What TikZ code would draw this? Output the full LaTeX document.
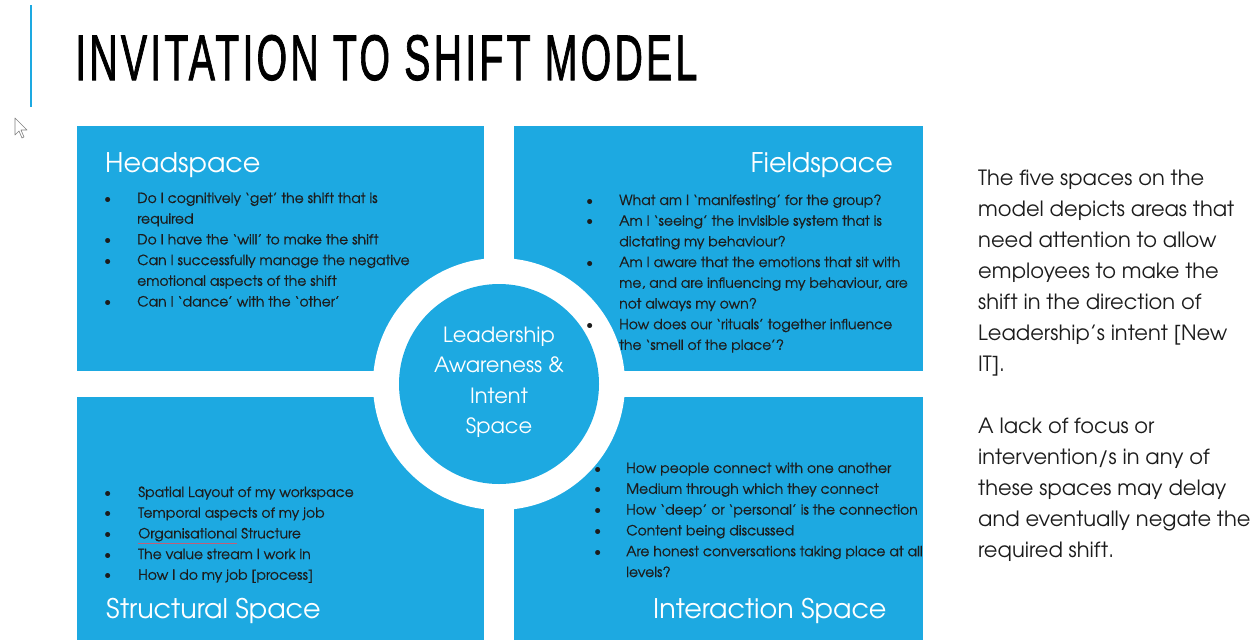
\documentclass[tikz,border=0pt]{standalone}
\usepackage{fontspec}
\usepackage{graphicx}
\setmainfont{TeX Gyre Adventor}
\newfontfamily\listfont[FakeBold=0.7]{TeX Gyre Adventor}
\newfontfamily\titlefont[FakeBold=1.6, LetterSpace=8]{Liberation Sans}
\definecolor{tsblue}{HTML}{1DA9E1}
\definecolor{txtgray}{HTML}{1C1C1C}
\definecolor{spellred}{HTML}{C0607A}
\newcommand\spellerr[1]{\leavevmode\vtop{\hbox{#1}\kern1.2pt{\color{spellred}\hrule height 0.6pt}}}

\begin{document}
\begin{tikzpicture}[x=1pt, y=-1pt,
    heading/.style={text=white, inner sep=0pt, font=\fontsize{27}{30}\selectfont},
    listline/.style={text=txtgray, inner sep=0pt, anchor=base west, font=\listfont\fontsize{14}{17}\selectfont},
    dot/.style={text=txtgray, inner sep=0pt, anchor=base west, font=\fontsize{14}{17}\selectfont},
    side/.style={text=txtgray, inner sep=0pt, anchor=base west, font=\fontsize{21}{25}\selectfont},
    centre/.style={text=white, inner sep=0pt, anchor=base, font=\fontsize{21}{25}\selectfont}]

    % slide frame and title
    \useasboundingbox (0,0) rectangle (1257,640);
    \draw[tsblue, line width=2pt] (31,5) -- (31,107);
    \node[anchor=base west, inner sep=0pt] (title) at (75,80)
        {\resizebox{622pt}{45pt}{\titlefont INVITATION TO SHIFT MODEL}};

    % mouse pointer
    \draw[gray, fill=white, line width=0.6pt, line join=round]
        (15,118) -- ++(0,17) -- ++(4,-4) -- ++(3,7) -- ++(2,-1) -- ++(-3,-7) -- ++(6,0) -- cycle;

    % the four spaces
    \fill[tsblue] (77,126) rectangle (484,371);
    \fill[tsblue] (514,126) rectangle (923,371);
    \fill[tsblue] (77,397) rectangle (484,640);
    \fill[tsblue] (514,397) rectangle (923,640);

    % centre space with white ring
    \fill[white] (499,384) circle (126);
    \node[circle, fill=tsblue, minimum size=200pt, inner sep=0pt] (lead) at (499,384) {};
    \foreach \t [count=\i] in {Leadership, Awareness \&, Intent, Space}
        \node[centre] (lead\i) at (499,{342+(\i-1)*30.5}) {\t};

    % headings
    \node[heading, anchor=base west] (head) at (105,172) {Headspace};
    \node[heading, anchor=base east] (field) at (893,172) {Fieldspace};
    \node[heading, anchor=base west] (struct) at (106,618) {Structural Space};
    \node[heading, anchor=base west] (inter) at (653,618) {Interaction Space};

    % Headspace questions
    \foreach \m/\t [count=\i] in {%
        •/{Do I cognitively ‘get’ the shift that is},
        {}/{required},
        •/{Do I have the ‘will’ to make the shift},
        •/{Can I successfully manage the negative},
        {}/{emotional aspects of the shift},
        •/{Can I ‘dance’ with the ‘other’}} {
        \node[dot] (hsb\i) at (104,{203+(\i-1)*20.7}) {\m};
        \node[listline] (hs\i) at (137,{203+(\i-1)*20.7}) {\t};
    }

    % Fieldspace questions
    \foreach \m/\t [count=\i] in {%
        •/{What am I ‘manifesting’ for the group?},
        •/{Am I ‘seeing’ the invisible system that is},
        {}/{dictating my behaviour?},
        •/{Am I aware that the emotions that sit with},
        {}/{me, and are influencing my behaviour, are},
        {}/{not always my own?},
        •/{How does our ‘rituals’ together influence},
        {}/{the ‘smell of the place’?}} {
        \node[dot] (fsb\i) at (586,{205+(\i-1)*20.7}) {\m};
        \node[listline] (fs\i) at (619,{205+(\i-1)*20.7}) {\t};
    }

    % Structural space items
    \foreach \t [count=\i] in {%
        {Spatial Layout of my workspace},
        {Temporal aspects of my job},
        {\spellerr{Organisational} Structure},
        {The value stream I work in},
        {How I do my job [process]}} {
        \node[dot] (ssb\i) at (104,{497+(\i-1)*20.7}) {•};
        \node[listline] (ss\i) at (138,{497+(\i-1)*20.7}) {\t};
    }

    % Interaction space items
    \foreach \m/\t [count=\i] in {%
        •/{How people connect with one another},
        •/{Medium through which they connect},
        •/{How ‘deep’ or ‘personal’ is the connection},
        •/{Content being discussed},
        •/{Are honest conversations taking place at all},
        {}/{levels?}} {
        \node[dot] (isb\i) at (594,{473+(\i-1)*20.8}) {\m};
        \node[listline] (is\i) at (626,{473+(\i-1)*20.8}) {\t};
    }

    % side notes
    \foreach \t [count=\i] in {%
        The five spaces on the,
        model depicts areas that,
        need attention to allow,
        employees to make the,
        shift in the direction of,
        Leadership’s intent [New,
        IT].}
        \node[side] (note\i) at (978,{185+(\i-1)*31}) {\t};
    \foreach \t [count=\i] in {%
        A lack of focus or,
        intervention/s in any of,
        these spaces may delay,
        and eventually negate the,
        required shift.}
        \node[side] (lack\i) at (978,{433+(\i-1)*31}) {\t};
\end{tikzpicture}
\end{document}
